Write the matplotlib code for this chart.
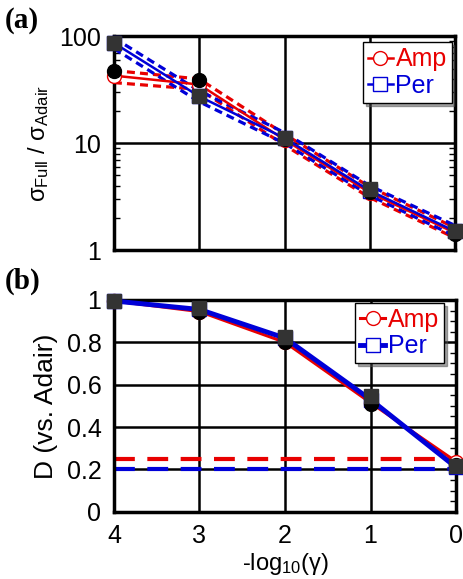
import numpy as np
import matplotlib.pyplot as plt
from matplotlib.ticker import MultipleLocator, LogLocator, NullFormatter

plt.rcParams['font.family'] = ['Liberation Sans', 'DejaVu Sans']
plt.rcParams['mathtext.fontset'] = 'custom'
plt.rcParams['mathtext.rm'] = 'Liberation Sans'
plt.rcParams['mathtext.it'] = 'Liberation Sans'
plt.rcParams['mathtext.default'] = 'regular'

x = [4, 3, 2, 1, 0]

# panel (a): sigma ratio
amp_ratio = [43, 35.5, 10.8, 3.45, 1.45]
amp_hi = [48, 40, 12.2, 3.9, 1.62]
amp_lo = [37, 32, 9.6, 3.1, 1.3]
per_ratio = [87, 27.5, 11.2, 3.6, 1.5]
per_hi = [97, 31, 12.6, 4.0, 1.7]
per_lo = [77, 24.5, 10.0, 3.25, 1.35]
sim_amp_ratio = [48, 39.5, 11.0, 3.5, 1.42]
sim_per_ratio = [87, 27.5, 11.2, 3.7, 1.52]

# panel (b): D vs Adair
amp_D = [0.995, 0.945, 0.80, 0.515, 0.237]
per_D = [0.995, 0.955, 0.82, 0.53, 0.21]
sim_amp_D = [0.995, 0.945, 0.80, 0.51, 0.22]
sim_per_D = [0.995, 0.962, 0.825, 0.545, 0.214]
amp_thr = 0.25
per_thr = 0.2

red = '#e80000'
blue = '#0000d8'

fig = plt.figure(figsize=(4.63, 5.79), dpi=100)
axa = fig.add_axes([0.246, 0.568, 0.737, 0.369])
axb = fig.add_axes([0.246, 0.116, 0.739, 0.366])

# (a)
axa.set_yscale('log')
for band, c in [(amp_hi, red), (amp_lo, red), (per_hi, blue), (per_lo, blue)]:
    axa.plot(x, band, '--', color=c, lw=2.3, dashes=(2.5, 1.6))
axa.plot(x, amp_ratio, '-o', color=red, lw=1.8, mfc='white', mec=red, ms=10,
         label='Amp', clip_on=False, zorder=4)
axa.plot(x, per_ratio, '-s', color=blue, lw=1.8, mfc='white', mec=blue, ms=10,
         label='Per', clip_on=False, zorder=4)
axa.plot(x, sim_amp_ratio, 'o', color='black', ms=10, ls='none', clip_on=False, zorder=5)
axa.plot(x, sim_per_ratio, 's', color='#333333', ms=10, ls='none', clip_on=False, zorder=6)
axa.set_xlim(4, 0)
axa.set_ylim(1, 100)
axa.set_xticks(x)
axa.set_xticklabels([])
axa.yaxis.set_minor_locator(LogLocator(base=10, subs=np.arange(2, 10), numticks=20))
axa.yaxis.set_minor_formatter(NullFormatter())
axa.set_yticks([1, 10, 100])
axa.set_yticklabels(['1', '10', '100'])
axa.set_ylabel(r'$\sigma_{Full}$ / $\sigma_{Adair}$', fontsize=17, labelpad=6)
leg = axa.legend(loc='upper right', fontsize=18, handlelength=1.0, handletextpad=0.1,
                 borderpad=0.2, labelspacing=0.1, fancybox=False, shadow=True,
                 framealpha=1, edgecolor='black', borderaxespad=0,
                 bbox_to_anchor=(0.99, 0.972))
for t, c in zip(leg.get_texts(), [red, blue]):
    t.set_color(c)
axa.tick_params(axis='y', which='minor', left=True, right=True, direction='in',
                length=4, width=1)

# (b)
axb.axhline(amp_thr, color=red, lw=3, dashes=(5, 3))
axb.axhline(per_thr, color=blue, lw=3, dashes=(5, 3))
axb.plot(x, amp_D, '-o', color=red, lw=2.2, mfc='white', mec=red, ms=10,
         label='Amp', clip_on=False, zorder=4)
axb.plot(x, per_D, '-s', color=blue, lw=3.5, mfc='white', mec=blue, ms=10,
         label='Per', clip_on=False, zorder=4)
axb.plot(x, sim_amp_D, 'o', color='black', ms=10, ls='none', clip_on=False, zorder=5)
axb.plot(x, sim_per_D, 's', color='#333333', ms=10, ls='none', clip_on=False, zorder=6)
axb.set_xlim(4, 0)
axb.set_ylim(0, 1)
axb.set_xticks(x)
axb.set_xticklabels(['4', '3', '2', '1', '0'])
axb.set_yticks([0, 0.2, 0.4, 0.6, 0.8, 1])
axb.set_yticklabels(['0', '0.2', '0.4', '0.6', '0.8', '1'])
axb.yaxis.set_minor_locator(MultipleLocator(0.05))
axb.set_ylabel('D (vs. Adair)', fontsize=19, labelpad=6)
axb.set_xlabel(r'-log$_{10}$($\gamma$)', fontsize=17, labelpad=2)
leg = axb.legend(loc='upper right', fontsize=18, handlelength=1.0, handletextpad=0.1,
                 borderpad=0.2, labelspacing=0.1, fancybox=False, shadow=True,
                 framealpha=1, edgecolor='black', borderaxespad=0,
                 bbox_to_anchor=(0.965, 0.986))
for t, c in zip(leg.get_texts(), [red, blue]):
    t.set_color(c)
axb.tick_params(axis='y', which='minor', left=False, right=True, direction='in',
                length=4, width=1)

for ax in (axa, axb):
    ax.grid(True, which='major', color='black', lw=1.8)
    ax.set_axisbelow(True)
    for s in ax.spines.values():
        s.set_linewidth(2.5)
    ax.tick_params(axis='both', which='major', length=0, labelsize=18, pad=9)

fig.text(0.01, 0.988, '(a)', fontsize=21, fontweight='bold', family='Liberation Serif',
         va='top')
fig.text(0.01, 0.538, '(b)', fontsize=21, fontweight='bold', family='Liberation Serif',
         va='top')

fig.savefig('out.png', dpi=100)
